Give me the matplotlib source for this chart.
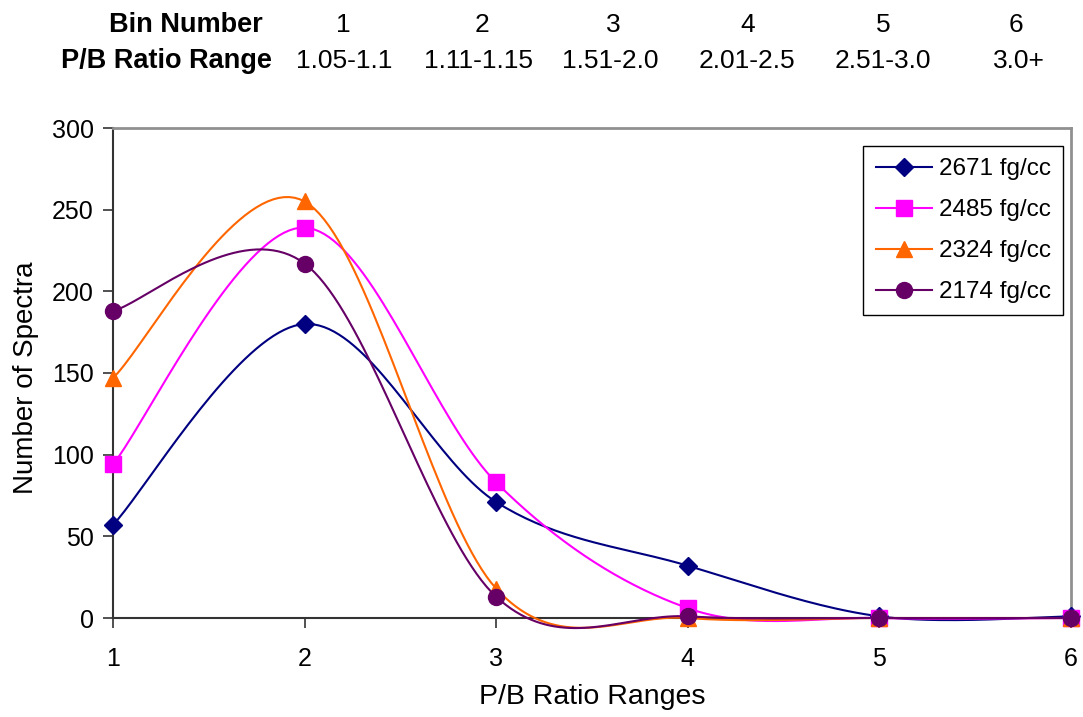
import numpy as np
import matplotlib
matplotlib.use('Agg')
import matplotlib.pyplot as plt
from matplotlib.lines import Line2D

plt.rcParams['font.family'] = ['Liberation Sans', 'DejaVu Sans']

# 데이터
bins = [1, 2, 3, 4, 5, 6]
ratio_ranges = ['1.05-1.1', '1.11-1.15', '1.51-2.0', '2.01-2.5', '2.51-3.0', '3.0+']
series_labels = ['2671 fg/cc', '2485 fg/cc', '2324 fg/cc', '2174 fg/cc']
s2671 = [57, 180, 71, 32, 1, 1]
s2485 = [94, 239, 83, 6, 0, 0]
s2324 = [147, 255, 18, 0, 0, 0]
s2174 = [188, 217, 13, 1, 0, 0]

colors = ['#000080', '#FF00FF', '#FF6600', '#660066']
markers = ['D', 's', '^', 'o']
msizes = [9, 11, 12, 11.5]


def smooth(xv, yv, n=40):
    # Excel 스타일 smoothed line (Catmull-Rom -> Bezier)
    p = np.column_stack([xv, yv]).astype(float)
    ext = np.vstack([p[0], p, p[-1]])
    out = []
    t = np.linspace(0, 1, n)[:, None]
    for i in range(len(p) - 1):
        p0, p3 = ext[i + 1], ext[i + 2]
        c1 = p0 + (ext[i + 2] - ext[i]) / 6
        c2 = p3 - (ext[i + 3] - ext[i + 1]) / 6
        seg = (1 - t) ** 3 * p0 + 3 * (1 - t) ** 2 * t * c1 + 3 * (1 - t) * t ** 2 * c2 + t ** 3 * p3
        out.append(seg if i == 0 else seg[1:])
    out = np.vstack(out)
    return out[:, 0], out[:, 1]


fig = plt.figure(figsize=(10.83, 7.17), dpi=100)
ax = fig.add_axes([113 / 1083, 99 / 717, 958 / 1083, 490 / 717])

handles = []
for vals, c, m, ms, lab in zip([s2671, s2485, s2324, s2174], colors, markers, msizes, series_labels):
    sx, sy = smooth(bins, vals)
    ax.plot(sx, sy, color=c, lw=1.5, clip_on=False, zorder=3)
    ax.plot(bins, vals, ls='none', marker=m, ms=ms, color=c, mec=c, clip_on=False, zorder=4)
    handles.append(Line2D([], [], color=c, lw=1.5, marker=m, ms=ms, mec=c))

ax.set_xlim(1, 6)
ax.set_ylim(0, 300)
ax.set_xticks(bins)
ax.set_yticks(range(0, 301, 50))
ax.tick_params(axis='both', labelsize=18, length=7, width=1.2, color='#333333', direction='out')
ax.tick_params(axis='y', pad=7)
ax.tick_params(axis='x', pad=14)
for s in ['left', 'bottom']:
    ax.spines[s].set_color('#333333')
    ax.spines[s].set_linewidth(1.5)
for s in ['top', 'right']:
    ax.spines[s].set_color('#909090')
    ax.spines[s].set_linewidth(2)

ax.set_xlabel('P/B Ratio Ranges', fontsize=20.5)
ax.xaxis.set_label_coords(0.5, -0.135)
ax.set_ylabel('Number of Spectra', fontsize=20)
ax.yaxis.set_label_coords(-0.077, 0.49)

leg = ax.legend(handles, series_labels, loc='upper right', bbox_to_anchor=(0.9916, 0.963),
                borderaxespad=0, fontsize=17.5, frameon=True, fancybox=False,
                handlelength=2.3, handletextpad=0.3, labelspacing=0.78, borderpad=0.5)
leg.get_frame().set_edgecolor('black')
leg.get_frame().set_linewidth(1.0)
leg.get_frame().set_alpha(1)

# 상단 표
W, H = 1083, 717
fig.text(263 / W, 1 - 32 / H, 'Bin Number', ha='right', va='baseline', fontsize=19.5, fontweight='bold')
fig.text(272 / W, 1 - 68 / H, 'P/B Ratio Range', ha='right', va='baseline', fontsize=19.5, fontweight='bold')
num_x = [343, 482, 613, 748, 883, 1016]
rng_x = [344, 478, 610, 747, 883, 1019]
for b, nx, r, rx in zip(bins, num_x, ratio_ranges, rng_x):
    fig.text(nx / W, 1 - 32 / H, str(b), ha='center', va='baseline', fontsize=19)
    fig.text(rx / W, 1 - 68 / H, r, ha='center', va='baseline', fontsize=19)

fig.savefig('out.png', dpi=100)
